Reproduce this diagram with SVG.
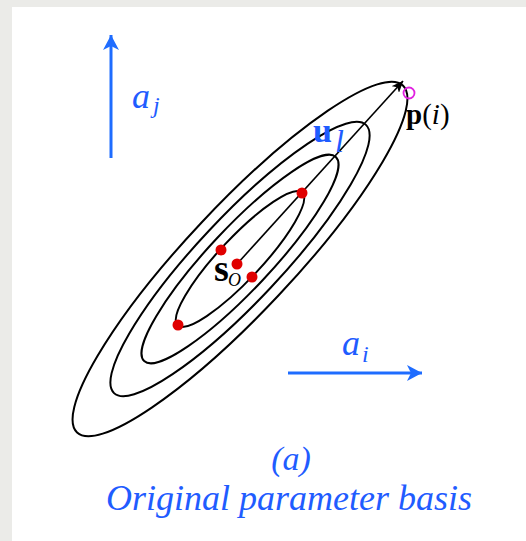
<svg xmlns="http://www.w3.org/2000/svg" width="526" height="541" viewBox="0 0 526 541">
<style>
.ell{fill:none;stroke:#000;stroke-width:2}
.dot{fill:#e00000}
.axis{stroke:#1e6cff;stroke-width:3;fill:none}
.lbl{font-family:"Liberation Serif","Times New Roman",serif;fill:#1f5cff}
.blk{font-family:"Liberation Serif","Times New Roman",serif;fill:#000}
</style>
<defs>
<marker id="headB" viewBox="0 0 16 16" refX="15" refY="8" markerWidth="16" markerHeight="16" markerUnits="userSpaceOnUse" orient="auto">
<path d="M15,8 L0,0 L4,8 L0,16 Z" fill="#1e6cff"/>
</marker>
<marker id="headK" viewBox="0 0 12 10" refX="11.5" refY="5" markerWidth="12" markerHeight="10" markerUnits="userSpaceOnUse" orient="auto">
<path d="M12,5 L0,0 L3,5 L0,10 Z" fill="#000"/>
</marker>
</defs>
<rect x="0" y="0" width="526" height="541" fill="#ebebe8"/>
<rect x="12" y="7" width="514" height="534" fill="#fff"/>

<g id="ellipses">
<ellipse id="ell1" class="ell" cx="240" cy="259" rx="91" ry="21" transform="rotate(-46.8 240 259)"/>
<ellipse id="ell2" class="ell" cx="240" cy="259" rx="140" ry="31" transform="rotate(-46.8 240 259)"/>
<ellipse id="ell3" class="ell" cx="240" cy="259" rx="184" ry="42" transform="rotate(-46.8 240 259)"/>
<ellipse id="ell4" class="ell" cx="240" cy="259" rx="238" ry="53" transform="rotate(-46.8 240 259)"/>
</g>

<g id="connectors">
<line x1="237" y1="264" x2="403" y2="81" stroke="#000" stroke-width="1.6" marker-end="url(#headK)"/>
<line class="axis" x1="111" y1="158" x2="111" y2="35" marker-end="url(#headB)"/>
<line class="axis" x1="288" y1="373" x2="422" y2="373" marker-end="url(#headB)"/>
</g>

<g id="points">
<circle class="dot" cx="178" cy="325" r="5.5"/>
<circle class="dot" cx="302" cy="193" r="5.5"/>
<circle class="dot" cx="221" cy="250" r="5.5"/>
<circle class="dot" cx="252" cy="277" r="5.5"/>
<circle class="dot" cx="237" cy="264" r="5.5"/>
<circle id="p_i" cx="409" cy="93" r="5.5" fill="none" stroke="#e020e0" stroke-width="1.8"/>
</g>

<g id="labels">
<text class="lbl" x="132" y="108" font-size="36" font-style="italic">a<tspan x="153" y="113" font-size="24">j</tspan></text>
<text class="lbl" x="342" y="355" font-size="36" font-style="italic">a<tspan x="362" y="362" font-size="24">i</tspan></text>
<text class="lbl" x="313" y="142" font-size="34" font-weight="bold" fill="#1040f0">u<tspan x="335" y="152" font-size="32" font-weight="normal" font-style="italic">l</tspan></text>
<text class="blk" x="214" y="281" font-size="38" font-weight="bold">s<tspan x="228" y="286" font-size="18" font-weight="normal" font-style="italic">O</tspan></text>
<text class="blk" x="406" y="124" font-size="29"><tspan font-weight="bold">p</tspan>(<tspan font-style="italic">i</tspan>)</text>
<text class="lbl" x="291" y="470" font-size="34" font-style="italic" text-anchor="middle">(a)</text>
<text class="lbl" x="106" y="510" font-size="36" font-style="italic">Original parameter basis</text>
</g>
</svg>
